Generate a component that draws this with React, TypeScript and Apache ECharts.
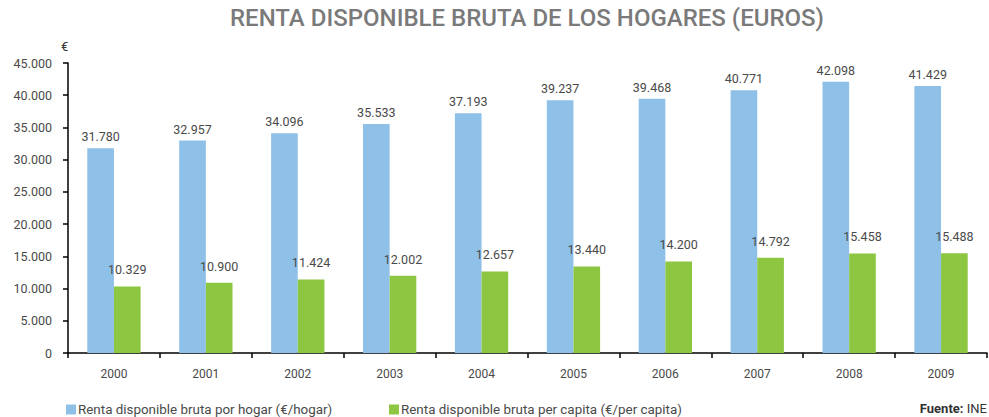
import React, { useEffect, useRef } from "react";
import * as echarts from "echarts";

const years = ["2000", "2001", "2002", "2003", "2004", "2005", "2006", "2007", "2008", "2009"];
const porHogar = [31780, 32957, 34096, 35533, 37193, 39237, 39468, 40771, 42098, 41429];
const perCapita = [10329, 10900, 11424, 12002, 12657, 13440, 14200, 14792, 15458, 15488];
const seriesNames = [
  "Renta disponible bruta por hogar (€/hogar)",
  "Renta disponible bruta per capita (€/per capita)",
];
const titleText = "RENTA DISPONIBLE BRUTA DE LOS HOGARES (EUROS)";

const BLUE = "#8EC0E8";
const GREEN = "#8DC641";
const TEXT = "#4a4a4a";
const FONT = "Roboto, 'DejaVu Sans', sans-serif";

const fmt = (v: number) => String(v).replace(/\B(?=(\d{3})+(?!\d))/g, ".");

export default function App() {
  const ref = useRef<HTMLDivElement>(null);
  useEffect(() => {
    if (!ref.current) return;
    const chart = echarts.init(ref.current, undefined, { renderer: "svg" });
    const legendText = { fontFamily: FONT, fontSize: 13.4, color: TEXT, padding: [0, 0, 0, -3] };
    chart.setOption({
      animation: false,
      backgroundColor: "#ffffff",
      textStyle: { fontFamily: FONT },
      title: {
        text: titleText,
        left: 230,
        top: 6,
        padding: 0,
        textStyle: { fontFamily: FONT, fontSize: 24, fontWeight: 500, color: "#7a7a7a" },
      },
      grid: { left: 68, right: 2, top: 63, bottom: 64, containLabel: false },
      legend: [
        {
          data: [seriesNames[0]],
          left: 66,
          top: 403,
          padding: 0,
          itemWidth: 10,
          itemHeight: 10,
          icon: "rect",
          textStyle: legendText,
        },
        {
          data: [seriesNames[1]],
          left: 389,
          top: 403,
          padding: 0,
          itemWidth: 10,
          itemHeight: 10,
          icon: "rect",
          textStyle: legendText,
        },
      ],
      graphic: [
        {
          type: "text",
          right: 2,
          top: 402,
          style: {
            text: "{b|Fuente:} {n|INE}",
            rich: {
              b: { fontFamily: FONT, fontSize: 13, fontWeight: "bold", fill: "#333" },
              n: { fontFamily: FONT, fontSize: 13, fill: "#333" },
            },
          },
        },
        {
          type: "text",
          left: 61,
          top: 40,
          style: { text: "€", fontFamily: FONT, fontSize: 13, fill: "#333" },
        },
      ],
      xAxis: {
        type: "category",
        data: years,
        axisLine: { lineStyle: { color: "#000", width: 1.5 } },
        axisTick: { show: true, length: 5, lineStyle: { color: "#000", width: 1.5 } },
        axisLabel: { color: TEXT, fontSize: 12, margin: 15, fontFamily: FONT },
        splitLine: { show: false },
      },
      yAxis: {
        type: "value",
        min: 0,
        max: 45000,
        interval: 5000,
        axisLine: { show: true, lineStyle: { color: "#000", width: 1.5 } },
        axisTick: { show: true, length: 5, lineStyle: { color: "#000", width: 1.5 } },
        axisLabel: { color: TEXT, fontSize: 12.5, margin: 16, fontFamily: FONT, formatter: (v: number) => fmt(v) },
        splitLine: { show: false },
      },
      series: [
        {
          name: seriesNames[0],
          type: "bar",
          data: porHogar,
          barWidth: "29%",
          barGap: "0%",
          itemStyle: { color: BLUE },
          label: {
            show: true,
            position: "top",
            distance: 5,
            color: TEXT,
            fontSize: 12.5,
            fontFamily: FONT,
            formatter: (p: any) => fmt(p.value),
          },
        },
        {
          name: seriesNames[1],
          type: "bar",
          data: perCapita,
          barWidth: "29%",
          barGap: "0%",
          itemStyle: { color: GREEN },
          label: {
            show: true,
            position: "top",
            distance: 10,
            color: TEXT,
            fontSize: 12.5,
            fontFamily: FONT,
            formatter: (p: any) => fmt(p.value),
          },
        },
      ],
    });
    return () => chart.dispose();
  }, []);
  return (
    <div
      ref={ref}
      style={{ position: "absolute", left: 0, top: 0, width: 989, height: 417 }}
    />
  );
}
